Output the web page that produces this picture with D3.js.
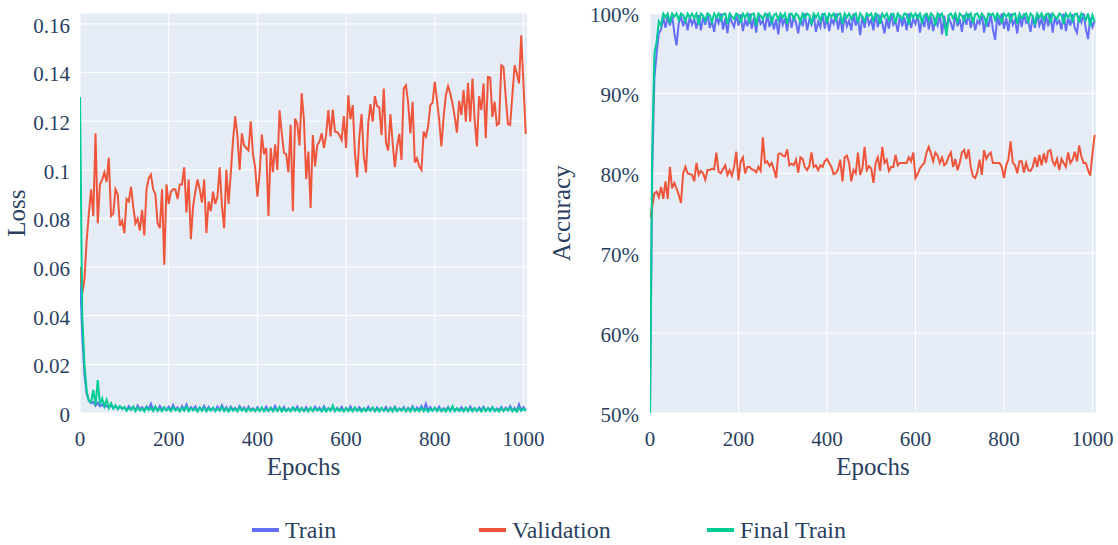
<!DOCTYPE html>
<html>
<head>
<meta charset="utf-8">
<script src="https://cdn.jsdelivr.net/npm/d3@7"></script>
<style>
html,body{margin:0;padding:0;background:#fff;}
svg{display:block;}
svg text{font-family:"Liberation Serif","Times New Roman",serif !important;fill:#2a3f5f;}
</style>
</head>
<body>
<svg id="chart" width="1118" height="545" font-family="Liberation Serif, Times New Roman, serif"></svg>
<script>
// ---------------- DATA ----------------
const epochStep = 5; // every series is sampled every 5 epochs (0 … 1005)
const seriesNames = ["Train", "Validation", "Final Train"];
const epochTicks = [0, 200, 400, 600, 800, 1000];
const lossTicks = [0, 0.02, 0.04, 0.06, 0.08, 0.1, 0.12, 0.14, 0.16];
const lossTickLabels = ["0", "0.02", "0.04", "0.06", "0.08", "0.1", "0.12", "0.14", "0.16"];
const accTicks = [50, 60, 70, 80, 90, 100];
const accTickLabels = ["50%", "60%", "70%", "80%", "90%", "100%"];

const trainLoss = [
0.058,0.032,0.016,0.008,0.005,0.004,0.0045,0.003,0.0042,0.0028,0.0035,0.0025,0.003,0.0022,0.0033,0.002,0.0028,0.0018,0.0026,0.002,
0.0022,0.0012,0.0028,0.0015,0.0025,0.001,0.0031,0.0014,0.0024,0.0011,0.0027,0.0016,0.0038,0.0013,0.0025,0.0009,0.0029,0.0015,0.0022,0.0012,
0.0026,0.0011,0.0033,0.0014,0.0023,0.0009,0.0028,0.0013,0.0035,0.001,0.0024,0.0015,0.0027,0.0008,0.0022,0.0013,0.0029,0.001,0.0025,0.0012,
0.0021,0.0009,0.0027,0.0012,0.0032,0.0011,0.0024,0.0008,0.0026,0.0013,0.0021,0.001,0.0028,0.0012,0.0023,0.0009,0.0026,0.0011,0.002,0.0008,
0.0024,0.001,0.0019,0.0012,0.0026,0.0008,0.0022,0.0011,0.0029,0.0009,0.0021,0.0012,0.0025,0.0008,0.0019,0.001,0.0023,0.0012,0.0027,0.0009,
0.0021,0.0008,0.0024,0.0011,0.0019,0.0009,0.0026,0.0012,0.0022,0.0008,0.0028,0.001,0.002,0.0012,0.0024,0.0008,0.0021,0.0011,0.0025,0.0009,
0.0019,0.0011,0.0027,0.0008,0.0022,0.001,0.0024,0.0012,0.0018,0.0009,0.0026,0.0011,0.0021,0.0008,0.0023,0.0012,0.0019,0.001,0.0025,0.0008,
0.0022,0.0011,0.0026,0.0009,0.0019,0.0012,0.0024,0.0008,0.0021,0.0011,0.0027,0.0009,0.0023,0.0012,0.0029,0.001,0.0038,0.0011,0.0024,0.0009,
0.0021,0.0012,0.0026,0.0008,0.002,0.0011,0.0025,0.0009,0.0022,0.0012,0.0019,0.0008,0.0024,0.0011,0.0021,0.0009,0.0027,0.0012,0.002,0.0008,
0.0023,0.0011,0.0026,0.0009,0.0021,0.0012,0.0024,0.0008,0.0019,0.0011,0.0025,0.0009,0.0022,0.0012,0.0028,0.001,0.0021,0.0008,0.0035,0.0011,
0.0024,0.0012
];

const valLoss = [
0.060,0.049,0.055,0.071,0.082,0.092,0.081,0.115,0.078,0.094,
0.096,0.099,0.095,0.105,0.081,0.082,0.092,0.090,0.077,0.079,
0.074,0.088,0.087,0.093,0.085,0.078,0.080,0.075,0.0835,0.073,
0.092,0.0965,0.098,0.092,0.090,0.078,0.076,0.092,0.061,0.094,
0.086,0.091,0.092,0.092,0.088,0.094,0.094,0.101,0.0825,0.096,
0.0715,0.085,0.091,0.096,0.092,0.0865,0.096,0.074,0.087,0.083,
0.091,0.086,0.089,0.101,0.0855,0.076,0.100,0.086,0.0985,0.112,
0.122,0.114,0.100,0.115,0.110,0.109,0.108,0.120,0.1065,0.101,
0.089,0.0985,0.1145,0.1065,0.109,0.081,0.109,0.099,0.1105,0.100,
0.1245,0.115,0.107,0.1065,0.099,0.1185,0.083,0.121,0.119,0.110,
0.1315,
0.1205,0.0962,0.1075,0.0843,0.1143,0.1014,0.1102,0.1116,0.115,0.109,
0.1143,0.1246,0.1137,0.1248,0.1157,0.1156,0.1143,0.1123,0.1221,0.109,
0.1307,0.1208,0.1266,0.1068,0.097,0.1137,0.1229,0.1055,0.0989,0.1191,
0.127,0.1198,0.1303,0.1262,0.1257,0.1143,0.1334,0.1112,0.108,0.1229,0.111,
0.1011,0.1096,0.1148,0.1041,0.1334,0.1348,0.1276,0.115,0.128,0.103,
0.1048,0.1014,0.100,0.1157,0.1137,0.1177,0.1266,0.1276,0.1362,0.1287,
0.1205,0.1096,0.1218,0.1307,0.1344,0.1314,0.1273,0.1218,0.1153,0.1284,
0.1225,0.1328,0.1198,0.1358,0.1198,0.1375,0.1205,0.1096,0.1303,0.1246,
0.1355,0.113,0.1382,0.138,0.1218,0.128,0.1184,0.1191,0.143,0.1423,
0.130,0.1188,0.1184,0.1307,0.143,0.1396,0.1355,0.1553,0.1355,0.1148
];

const finalLoss = [
0.130,0.040,0.020,0.009,0.005,0.0045,0.0095,0.003,0.0135,0.0035,0.006,0.0028,0.0055,0.002,0.004,0.0018,0.0032,0.0015,0.0028,0.0016,
0.0025,0.0009,0.0021,0.0013,0.0027,0.0008,0.0023,0.0011,0.0019,0.0007,0.0024,0.0012,0.0021,0.0008,0.0026,0.001,0.0018,0.0007,0.0023,0.0011,
0.0019,0.0008,0.0024,0.0011,0.0017,0.0007,0.0022,0.001,0.0026,0.0008,0.002,0.0011,0.0018,0.0006,0.0023,0.0009,0.0021,0.0007,0.0019,0.001,
0.0022,0.0007,0.0018,0.001,0.0024,0.0008,0.0019,0.0006,0.0021,0.0009,0.0017,0.0007,0.0023,0.001,0.0018,0.0006,0.002,0.0009,0.0016,0.0007,
0.0019,0.0008,0.0023,0.0006,0.0017,0.001,0.0021,0.0007,0.0018,0.0009,0.0024,0.0006,0.0019,0.0008,0.0016,0.0007,0.0022,0.0009,0.0018,0.0006,
0.002,0.0009,0.0017,0.0006,0.0022,0.0008,0.0019,0.001,0.0016,0.0007,0.0021,0.0006,0.0018,0.0009,0.0031,0.0007,0.0019,0.0008,0.0017,0.0006,
0.0021,0.0008,0.0018,0.0007,0.0023,0.0009,0.0016,0.0006,0.002,0.0008,0.0017,0.001,0.0022,0.0007,0.0018,0.0006,0.0021,0.0009,0.0016,0.0007,
0.0019,0.0006,0.0022,0.0008,0.0017,0.001,0.002,0.0007,0.0018,0.0006,0.0023,0.0009,0.0016,0.0007,0.0021,0.0008,0.0019,0.0006,0.0017,0.001,
0.0022,0.0007,0.0018,0.0009,0.0016,0.0006,0.0021,0.0008,0.0028,0.0007,0.0019,0.001,0.0017,0.0006,0.0022,0.0008,0.0018,0.0007,0.002,0.0009,
0.0017,0.0006,0.0021,0.0008,0.0019,0.0007,0.0023,0.0009,0.0016,0.0006,0.002,0.0008,0.0018,0.001,0.0022,0.0007,0.0017,0.0006,0.0021,0.0009,
0.0018,0.0008
];

// accuracy in percent
const trainAcc = [
50,80,92,95,97.5,98,99.5,98.2,99.6,98.5,99.8,97.6,96.0,98.8,99.7,98.4,99.5,97.9,99.6,98.6,
99.3,98.1,99.8,97.9,99.5,98.6,100,98.2,99.1,97.7,99.6,98.8,100,98.0,99.4,97.5,99.7,98.9,98.3,99.8,
98.5,99.9,97.8,99.2,98.4,100,98.1,99.5,97.6,99.8,98.7,99.1,97.9,100,98.3,99.6,98.0,99.3,97.4,99.9,
98.6,99.4,97.8,100,98.2,99.7,98.8,97.5,99.5,98.4,100,97.9,99.2,98.6,99.8,97.7,99.0,98.3,100,98.1,
99.6,97.8,99.3,98.7,100,98.0,99.5,97.6,99.8,98.4,99.1,97.9,100,98.5,99.4,97.3,99.7,98.2,99.9,98.6,
99.2,97.9,100,98.3,99.6,98.8,97.5,99.4,98.1,100,98.6,99.0,97.7,99.8,98.4,99.5,97.9,100,98.2,99.3,
98.7,99.9,97.6,99.4,98.3,100,98.0,99.6,97.8,99.2,98.5,100,97.4,99.7,98.1,99.5,98.8,97.9,100,98.4,
99.3,97.7,99.8,98.6,100,98.2,99.5,97.9,99.1,98.7,100,97.6,99.4,98.3,99.9,98.0,96.7,99.6,98.5,100,
98.1,99.4,97.8,100,98.6,99.2,97.5,99.7,98.3,100,98.8,99.0,97.7,99.6,98.2,100,98.5,99.3,97.9,99.8,
98.4,100,97.6,99.5,98.7,99.1,98.0,100,97.8,99.4,98.5,99.9,98.2,97.6,99.7,98.9,100,98.1,96.8,99.5,
98.3,99.0
];

const valAcc = [
74.4,75.8,77.5,77.7,77.0,78.3,76.8,79.0,76.8,80.8,78.1,78.8,78.1,77.3,76.3,80.0,80.8,80.0,79.9,79.8,
79.0,81.3,79.8,80.3,80.0,79.2,80.4,80.4,80.6,80.5,82.6,80.2,80.0,80.5,81.0,79.8,80.4,79.7,80.8,82.7,
79.1,81.5,82.0,80.0,80.8,80.8,80.5,80.4,80.1,80.8,80.3,84.5,81.3,81.5,80.9,81.3,80.5,79.4,82.4,82.5,
82.2,82.1,83.0,81.0,81.2,81.0,81.7,80.1,82.0,81.8,80.8,80.4,80.9,82.6,80.8,81.0,80.4,81.0,80.8,81.5,
81.8,81.3,80.8,79.9,80.0,80.5,81.7,79.0,82.0,82.2,81.3,79.0,80.4,80.0,82.6,79.8,80.6,83.3,80.4,80.9,
80.6,
78.8,81.3,82.0,80.3,83.3,81.3,81.7,80.3,80.8,80.8,82.3,81.0,81.3,81.3,81.3,81.3,82.0,81.5,82.6,79.4,
79.9,80.6,81.0,81.3,82.6,83.3,82.5,81.5,82.6,82.2,81.3,82.0,81.0,81.3,82.1,82.6,80.8,81.8,80.4,81.3,
82.6,82.9,81.8,83.0,80.8,79.6,79.4,80.2,81.7,79.8,82.9,81.8,82.3,82.6,81.3,81.3,81.3,81.3,80.8,79.4,
81.0,81.7,84.0,81.3,81.0,80.0,81.5,81.5,80.1,81.3,80.4,80.3,80.8,82.0,80.8,82.3,81.0,82.5,81.3,82.8,
82.9,81.5,81.0,81.8,80.4,81.8,81.3,80.8,82.6,81.3,81.7,82.7,81.5,83.5,82.1,81.3,81.3,80.4,79.7,82.5,
84.8
];

const finalAcc = [
50,83,95,96.5,99,98.5,100,99.5,100,98.8,100,99.6,100,99.2,100,99.8,99.0,100,99.5,100,
99.4,100,98.6,100,99.7,99.1,100,99.8,98.9,100,99.5,100,99.2,99.9,100,98.7,100,99.6,99.3,100,
99.8,98.8,100,99.5,100,99.0,99.9,100,98.5,100,99.7,99.3,100,99.6,100,98.9,99.8,100,99.2,100,
99.5,100,98.7,99.9,100,99.3,100,99.7,98.9,100,99.4,100,99.8,98.6,100,99.5,100,99.1,99.9,100,
98.8,100,99.6,100,99.2,99.9,100,98.7,100,99.5,100,99.3,99.8,100,98.9,100,99.6,99.0,100,99.7,
100,99.1,100,99.8,98.7,100,99.5,100,99.2,99.9,100,98.8,100,99.6,99.3,100,99.9,98.6,100,99.5,
100,99.4,100,98.9,99.8,100,99.2,100,99.7,98.5,100,99.6,100,99.0,97.2,99.8,100,99.4,100,98.8,
100,99.7,99.1,100,99.5,100,98.8,99.9,100,99.3,100,99.6,98.7,100,99.8,100,99.2,100,99.5,98.9,
100,99.6,100,99.1,99.9,100,98.7,100,99.4,99.8,100,99.0,100,99.7,98.6,100,99.5,100,99.2,99.9,
100,98.8,100,99.6,99.3,100,99.8,98.7,100,99.5,100,99.1,99.9,100,98.9,100,99.6,99.2,100,98.4,
99.8,99.0
];

const colors = {"Train": "#636efa", "Validation": "#ef553b", "Final Train": "#00cc96"};

// ---------------- DRAW ----------------
const svg = d3.select("#chart");
const SERIF = "Liberation Serif, Times New Roman, serif";
const FONT_TICK = 21, FONT_TITLE = 25, FONT_LEG = 24;
const epochMax = 1008;

function txt(sel) {
  return sel.attr("font-family", SERIF).attr("fill", "#2a3f5f");
}

function panel(opts) {
  const g = svg.append("g");
  const x = d3.scaleLinear().domain([0, epochMax]).range([opts.x0, opts.x1]);
  const y = d3.scaleLinear().domain(opts.yDomain).range([opts.y1, opts.y0]);
  g.append("rect").attr("x", opts.x0).attr("y", opts.y0)
    .attr("width", opts.x1 - opts.x0).attr("height", opts.y1 - opts.y0)
    .attr("fill", "#e5ecf6");
  // grid
  g.selectAll(".gx").data(epochTicks).enter().append("line")
    .attr("x1", d => x(d)).attr("x2", d => x(d))
    .attr("y1", opts.y0).attr("y2", opts.y1)
    .attr("stroke", "#fff").attr("stroke-width", 1);
  g.selectAll(".gy").data(opts.yTicks).enter().append("line")
    .attr("x1", opts.x0).attr("x2", opts.x1)
    .attr("y1", d => y(d)).attr("y2", d => y(d))
    .attr("stroke", "#fff").attr("stroke-width", 1);
  // tick labels
  txt(g.selectAll(".tx").data(epochTicks).enter().append("text"))
    .attr("x", d => x(d)).attr("y", 439).attr("dy", "0.35em")
    .attr("text-anchor", "middle").attr("font-size", FONT_TICK)
    .text(d => d);
  txt(g.selectAll(".ty").data(opts.yTicks).enter().append("text"))
    .attr("x", opts.labelX).attr("y", d => y(d) + 1.5).attr("dy", "0.35em")
    .attr("text-anchor", "end").attr("font-size", FONT_TICK)
    .text((d, i) => opts.yLabels[i]);
  // titles
  txt(g.append("text")).attr("x", (opts.x0 + opts.x1) / 2).attr("y", 475)
    .attr("text-anchor", "middle").attr("font-size", FONT_TITLE).text("Epochs");
  txt(g.append("text"))
    .attr("transform", `translate(${opts.titleX},${(opts.y0 + opts.y1) / 2}) rotate(-90)`)
    .attr("text-anchor", "middle").attr("font-size", FONT_TITLE).text(opts.yTitle);
  // lines
  const clipId = "clip" + opts.x0;
  svg.append("clipPath").attr("id", clipId).append("rect")
    .attr("x", opts.x0).attr("y", opts.y0 - 2)
    .attr("width", opts.x1 - opts.x0).attr("height", opts.y1 - opts.y0 + 3);
  const line = d3.line().x((d, i) => x(i * epochStep)).y(d => y(d));
  const lg = g.append("g").attr("clip-path", `url(#${clipId})`);
  opts.series.forEach(s => {
    lg.append("path").datum(s.values)
      .attr("d", line).attr("fill", "none")
      .attr("stroke", colors[s.name]).attr("stroke-width", 2);
  });
}

panel({
  x0: 80, x1: 527, y0: 13.5, y1: 413,
  yDomain: [0, 0.1643], yTicks: lossTicks, yLabels: lossTickLabels,
  labelX: 70, titleX: 25, yTitle: "Loss",
  series: [
    {name: "Train", values: trainLoss},
    {name: "Validation", values: valLoss},
    {name: "Final Train", values: finalLoss}
  ]
});

panel({
  x0: 650, x1: 1096, y0: 13.5, y1: 413,
  yDomain: [50, 100], yTicks: accTicks, yLabels: accTickLabels,
  labelX: 639, titleX: 570, yTitle: "Accuracy",
  series: [
    {name: "Train", values: trainAcc},
    {name: "Validation", values: valAcc},
    {name: "Final Train", values: finalAcc}
  ]
});

// legend
const legendX = [252, 479, 707];
const leg = svg.append("g");
seriesNames.forEach((n, i) => {
  leg.append("line").attr("x1", legendX[i]).attr("x2", legendX[i] + 27)
    .attr("y1", 530).attr("y2", 530)
    .attr("stroke", colors[n]).attr("stroke-width", 4);
  txt(leg.append("text")).attr("x", legendX[i] + 33).attr("y", 538)
    .attr("font-size", FONT_LEG).text(n);
});
</script>
</body>
</html>
